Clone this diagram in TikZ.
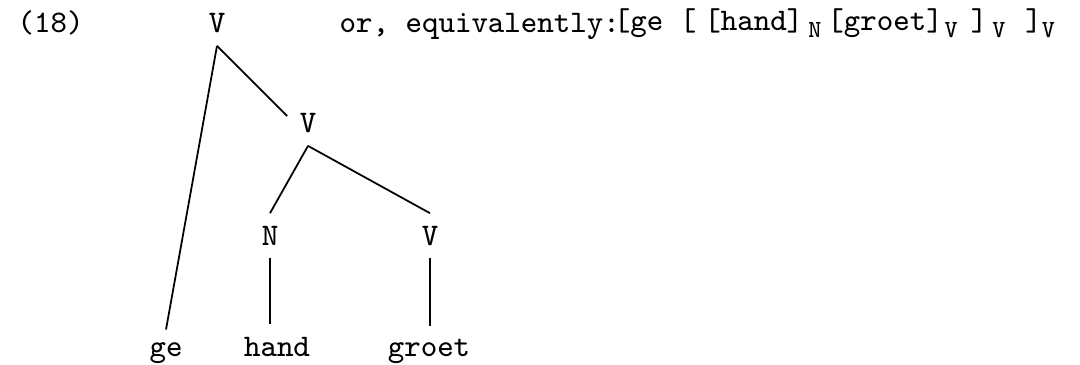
\documentclass[tikz,border=0pt]{standalone}
\usepackage{fontspec}
\newcommand{\lab}[1]{\raisebox{-0.07cm}{\fontsize{7}{8}\selectfont #1}}

\begin{document}
\begin{tikzpicture}[x=0.01cm,y=-0.01cm,font=\fontsize{8.93}{10}\ttfamily,line width=0.5pt,
  every node/.style={anchor=base}]
  \useasboundingbox (0,0) rectangle (1080,364);

  \node[anchor=base west] (ex) at (5,33) {(18)};

  \node (top) at (217,33) {V};
  \node (mid) at (308,133) {V};
  \node (n) at (270,245) {N};
  \node (v) at (430,245) {V};
  \node (ge) at (166,356) {ge};
  \node (hand) at (277,356) {hand};
  \node (groet) at (429,356) {groet};

  \draw (top.south) -- (ge.north);
  \draw (top.south) -- (mid.160);
  \foreach \to in {n,v}
    \draw (mid.south) -- (\to.north);
  \draw (n.south) -- (n.south |- hand.north);
  \draw (v.south) -- (v.south |- groet.north);

  \node[anchor=base west] (or) at (327,33) {or, equivalently:};
  \node[anchor=base west,inner sep=0pt] (brk) at (613,31)
    {[ge [\hspace{0.08cm}[hand]\hspace{0.05cm}\lab{N}\hspace{0.06cm}[groet]\hspace{0.02cm}\lab{V}\hspace{0.13cm}]\hspace{0.05cm}\lab{V}\hspace{0.2cm}]\lab{V}};
\end{tikzpicture}
\end{document}
